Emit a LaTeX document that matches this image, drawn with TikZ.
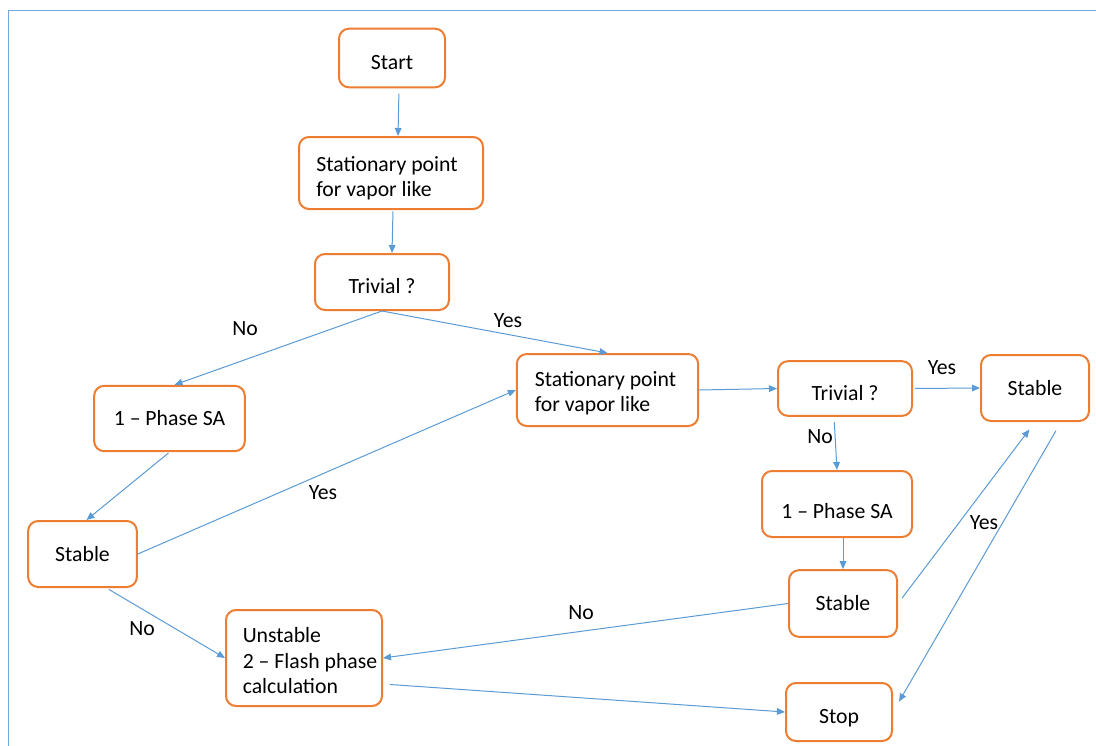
\documentclass[tikz,border=0pt]{standalone}
\usepackage{fontspec}
\setmainfont{Carlito}
\usetikzlibrary{arrows.meta,positioning,calc}
\definecolor{boxorange}{RGB}{237,125,49}
\definecolor{flowblue}{RGB}{91,155,213}
\tikzset{
  stepbox/.style={draw=boxorange, line width=1.5pt, rounded corners=7.5pt, fill=white,
    font=\fontsize{16.3}{18.8}\selectfont, align=left, inner sep=0pt},
  drop/.style={execute at begin node={\rule{0pt}{#1}}},
  flowln/.style={-{Triangle[length=6pt,width=5pt]}, line width=0.75pt, flowblue},
  frameln/.style={line width=0.75pt, flowblue!85},
  lbl/.style={font=\fontsize{16.3}{18.8}\selectfont},
}
% left aligned lines, lowered by #1/2 and moved right by #2/2
\newcommand{\boxlines}[3]{%
  \raisebox{0pt}[\dimexpr\height+#1\relax][\depth]{\hspace*{#2}\begin{tabular}{@{}l@{}}#3\end{tabular}}}

\begin{document}
\begin{tikzpicture}[x=0.75pt,y=-0.75pt]
    \useasboundingbox (0,0) rectangle (1096,746);
    % frame of the drawing
    \draw[frameln] (8,746) -- (8,10) -- (1096,10);
    % left column: vapor like test
    \node[stepbox, drop=17.5pt, minimum width=79.5pt, minimum height=44pt] (start) at (392,58) {Start};
    \node[stepbox, minimum width=138pt, minimum height=54pt] (sp1) at (391,173) {\boxlines{9pt}{-6pt}{Stationary point\\for vapor like}};
    \node[stepbox, drop=17.5pt, minimum width=100.5pt, minimum height=42pt] (t1) at (382,282) {Trivial ?};
    \node[stepbox, minimum width=113pt, minimum height=49pt] (p1) at (169.5,418.5) {1 – Phase SA};
    \node[stepbox, minimum width=81.5pt, minimum height=49.5pt] (s1) at (82.5,554) {Stable};
    \node[stepbox, minimum width=117pt, minimum height=72pt] (u) at (304,658) {\boxlines{7.5pt}{9pt}{Unstable\\2 – Flash phase\\calculation}};
    % right column: second test
    \node[stepbox, minimum width=136pt, minimum height=54pt] (sp2) at (607.5,390) {\boxlines{6pt}{-3pt}{Stationary point\\for vapor like}};
    \node[stepbox, drop=17.5pt, minimum width=100.5pt, minimum height=41pt] (t2) at (845,388.5) {Trivial ?};
    \node[stepbox, minimum width=81pt, minimum height=49.5pt] (sr) at (1035,388) {Stable};
    \node[stepbox, drop=22pt, minimum width=112.5pt, minimum height=49.5pt] (p2) at (837,504) {1 – Phase SA};
    \node[stepbox, minimum width=81pt, minimum height=50pt] (s2) at (843,603.5) {Stable};
    \node[stepbox, drop=20.5pt, minimum width=79.5pt, minimum height=43.5pt] (stop) at (839,712) {Stop};
    % connectors
    \draw[flowln, shorten <=4pt] ($(start.south)+(7,0)$) -- ($(sp1.north)+(7,0)$);
    \draw[flowln, shorten <=1pt] ($(sp1.south)+(2,0)$) -- ($(t1.north)+(10,0)$);
    \draw[flowln] (t1.south) -- ($(p1.north)+(5,0)$);
    \draw[flowln] (t1.south) -- (sp2.north);
    \draw[flowln, shorten <=1pt] (p1.south) -- ($(s1.north)+(4,0)$);
    \draw[flowln] (s1.east) -- (sp2.west);
    \draw[flowln, shorten <=2pt] ($(s1.south)+(24,0)$) -- (u.west);
    \draw[flowln] (sp2.east) -- (t2.west);
    \draw[flowln, shorten <=1.5pt] (t2.east) -- (sr.west);
    \draw[flowln, shorten <=4pt] ($(t2.south)+(-11,0)$) -- (p2.north);
    \draw[flowln] ($(p2.south)+(6,0)$) -- (s2.north);
    \draw[flowln] (s2.west) -- (u.east);
    \draw[flowln, shorten <=5pt, shorten >=7pt] (s2.east) -- (sr.south);
    \draw[flowln, shorten <=7.5pt, shorten >=9pt] ($(sr.south)+(26,0)$) -- (stop.east);
    \draw[flowln, shorten <=5pt] ($(u.east)+(0,26)$) -- (stop.west);
    % branch labels
    \node[lbl] (no1) at (245,329) {No};
    \node[lbl] (yes1) at (508,321) {Yes};
    \node[lbl] (yes2) at (323,493) {Yes};
    \node[lbl] (no2) at (142,629) {No};
    \node[lbl] (yes3) at (942,368) {Yes};
    \node[lbl] (no3) at (820,437) {No};
    \node[lbl] (no4) at (581,613) {No};
    \node[lbl] (yes4) at (984,523) {Yes};
\end{tikzpicture}
\end{document}
